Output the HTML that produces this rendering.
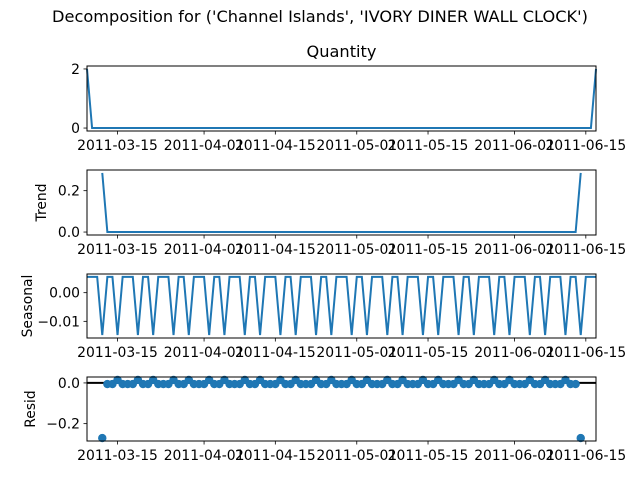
<!DOCTYPE html>
<html><head><meta charset="utf-8"><style>
body{margin:0;background:#fff}
svg text{font-family:"DejaVu Sans","Liberation Sans",sans-serif;fill:#000}
</style></head><body>
<svg id="fig" width="640" height="480" xmlns="http://www.w3.org/2000/svg">
<text x="320" y="22" text-anchor="middle" font-size="16.2">Decomposition for ('Channel Islands', 'IVORY DINER WALL CLOCK')</text>
</svg>
<script>
const nDays = 101;
const spikeDays = [0, 100];
const spikeValues = [2, 2];
const seasonalPattern = [0.0055, 0.0055, 0.0055, -0.0148, 0.0055, 0.0055, -0.0148];
const tickDays = [6, 23, 37, 53, 67, 84, 98];
const tickLabels = ['2011-03-15','2011-04-01','2011-04-15','2011-05-01','2011-05-15','2011-06-01','2011-06-15'];

const svg = document.getElementById('fig');
const NS = 'http://www.w3.org/2000/svg';
function mk(tag, attrs, parent){const e=document.createElementNS(NS,tag);for(const k in attrs)e.setAttribute(k,attrs[k]);(parent||svg).appendChild(e);return e;}

const observed = [];
for(let d=0; d<nDays; d++) observed.push(0);
spikeDays.forEach((d,i)=>{observed[d]=spikeValues[i];});
const trend = [];
for(let d=0; d<nDays; d++){
  if(d<3||d>nDays-4){trend.push(null);continue;}
  let s=0;for(let k=-3;k<=3;k++)s+=observed[d+k];trend.push(s/7);
}
const seasonal = [];
for(let d=0; d<nDays; d++) seasonal.push(seasonalPattern[d%7]);
const resid = [];
for(let d=0; d<nDays; d++) resid.push(trend[d]===null?null:observed[d]-trend[d]-seasonal[d]);

const X0=87, X1=596;
const xs = d => X0 + (d/(nDays-1))*(X1-X0);

const panels = [
 {name:'quantity', top:66, bot:131, data:observed, yt:[0,2], ytl:['0','2'], title:'Quantity'},
 {name:'trend', top:170, bot:235, data:trend, yt:[0,0.2], ytl:['0.0','0.2'], ylabel:'Trend', lx:41},
 {name:'seasonal', top:274, bot:338, data:seasonal, yt:[-0.01,0], ytl:['\u22120.01','0.00'], ylabel:'Seasonal', lx:27},
 {name:'resid', top:377, bot:441, data:resid, yt:[-0.2,0], ytl:['\u22120.2','0.0'], ylabel:'Resid', lx:30, dots:true}
];

panels.forEach(p=>{
  const g = mk('g',{});
  
  
  const vals = p.data.filter(v=>v!==null);
  let mn=Math.min(...vals), mx=Math.max(...vals);
  const m=(mx-mn)*0.05; mn-=m; mx+=m;
  const ys = v => p.bot - (v-mn)/(mx-mn)*(p.bot-p.top);
  if(p.dots){
    const hl = mk('line',{x1:X0,x2:X1,y1:ys(0),y2:ys(0),stroke:'#000','stroke-width':2},g);
    
    
    p.data.forEach((v,d)=>{ if(v===null) return;
      const c = mk('circle',{cx:xs(d),cy:ys(v),r:4.2,fill:'#1f77b4'},g);
      
      
    });
  } else {
    let path='';let pen=false;
    p.data.forEach((v,d)=>{ if(v===null){pen=false;return;} path+=(pen?'L':'M')+xs(d).toFixed(2)+','+ys(v).toFixed(2);pen=true;});
    const ln = mk('path',{d:path,fill:'none',stroke:'#1f77b4','stroke-width':2},g);
    
    
  }
  const fr = mk('rect',{x:X0,y:p.top,width:X1-X0,height:p.bot-p.top,fill:'none',stroke:'#000','stroke-width':1},g);
  
  
  p.yt.forEach((v,i)=>{
    const y=ys(v);
    mk('line',{x1:X0-3.5,x2:X0,y1:y,y2:y,stroke:'#000','stroke-width':0.8},g);
    const t = mk('text',{x:X0-7,y:y+5,'text-anchor':'end','font-size':'13.9'},g);
    t.textContent=p.ytl[i];
    
    
  });
  tickDays.forEach((d,i)=>{
    const x=xs(d);
    mk('line',{x1:x,x2:x,y1:p.bot,y2:p.bot+3.5,stroke:'#000','stroke-width':0.8},g);
    const t = mk('text',{x:x,y:p.bot+19,'text-anchor':'middle','font-size':'13.9'},g);
    t.textContent=tickLabels[i];
    
    
  });
  if(p.title){
    const t = mk('text',{x:(X0+X1)/2,y:p.top-9,'text-anchor':'middle','font-size':'16.2'},g);
    t.textContent=p.title;
    
    
  }
  if(p.ylabel){
    const cy=(p.top+p.bot)/2;
    const t = mk('text',{x:0,y:0,'text-anchor':'middle','font-size':'13.9',transform:`translate(${p.lx+5},${cy}) rotate(-90)`},g);
    t.textContent=p.ylabel;
    
    
  }
});
</script>
</body></html>
